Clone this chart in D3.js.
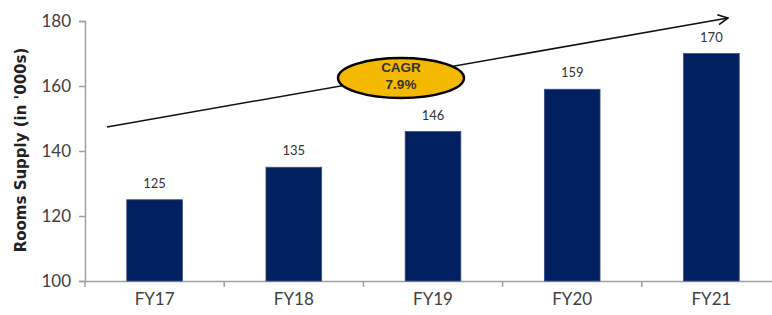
<!DOCTYPE html>
<html lang="en">
<head>
    <meta charset="UTF-8">
    <title>Rooms Supply</title>
    <script src="https://d3js.org/d3.v7.min.js"></script>
    <style>
        body { margin: 0; background: white; }
        svg { display: block; }
    </style>
</head>
<body>
    <svg id="chart" width="772" height="315"></svg>
    <script>
        // Data
        const years = ["FY17", "FY18", "FY19", "FY20", "FY21"];
        const supply = [125, 135, 146, 159, 170];
        const yTicks = [100, 120, 140, 160, 180];

        const svg = d3.select("#chart");
        const font = "Lato, 'DejaVu Sans', sans-serif";

        // Scales
        const x = d3.scaleBand()
            .domain(years)
            .range([85, 781])
            .paddingInner(0.6)
            .paddingOuter(0.3);
        const y = d3.scaleLinear()
            .domain([100, 180])
            .range([281, 21]);

        // Axis lines
        const axisColor = "#a0a0a0";
        const yAxis = svg.append("g")
            .attr("transform", "translate(85,0)")
            .call(d3.axisLeft(y).tickValues(yTicks).tickSize(6).tickPadding(8));
        yAxis.select(".domain").attr("stroke", axisColor).attr("stroke-width", 1.5);
        yAxis.selectAll("line").attr("stroke", axisColor).attr("stroke-width", 1.5);
        yAxis.selectAll("text")
            .attr("font-family", font)
            .attr("font-size", 17)
            .attr("fill", "#404040");

        const xBand = d3.scaleBand().domain(years).range([85, 781]);
        const xAxis = svg.append("g")
            .attr("transform", "translate(0,281)")
            .call(d3.axisBottom(xBand).tickSize(0).tickPadding(12));
        xAxis.select(".domain").attr("stroke", axisColor).attr("stroke-width", 1.5);
        xAxis.selectAll("text")
            .attr("font-family", font)
            .attr("font-size", 17)
            .attr("fill", "#404040");
        // tick marks at band boundaries
        svg.append("g")
            .selectAll("line")
            .data(years)
            .join("line")
            .attr("x1", d => xBand(d))
            .attr("x2", d => xBand(d))
            .attr("y1", 281)
            .attr("y2", 287)
            .attr("stroke", axisColor)
            .attr("stroke-width", 1.5);

        // Bars
        svg.append("g")
            .selectAll("rect")
            .data(years)
            .join("rect")
            .attr("x", d => x(d))
            .attr("y", (d, i) => y(supply[i]))
            .attr("width", x.bandwidth())
            .attr("height", (d, i) => y(100) - y(supply[i]))
            .attr("fill", "#002060")
            .attr("stroke", "#3a4f88")
            .attr("stroke-width", 0.8);

        // Value labels
        svg.append("g")
            .selectAll("text")
            .data(years)
            .join("text")
            .attr("x", d => x(d) + x.bandwidth() / 2)
            .attr("y", (d, i) => y(supply[i]) - 12)
            .attr("text-anchor", "middle")
            .attr("font-family", font)
            .attr("font-size", 13)
            .attr("fill", "#333")
            .text((d, i) => supply[i]);

        // Y title
        svg.append("text")
            .attr("transform", "translate(26,150) rotate(-90)")
            .attr("text-anchor", "middle")
            .attr("font-family", "'DejaVu Sans', sans-serif")
            .attr("font-weight", "bold")
            .attr("font-size", 15)
            .attr("fill", "#222")
            .text("Rooms Supply (in '000s)");

        // Trend arrow
        svg.append("defs").append("marker")
            .attr("id", "head")
            .attr("viewBox", "0 0 12 12")
            .attr("refX", 11)
            .attr("refY", 6)
            .attr("markerWidth", 12)
            .attr("markerHeight", 12)
            .attr("markerUnits", "userSpaceOnUse")
            .attr("orient", "auto")
            .append("path")
            .attr("d", "M1,1 L11,6 L1,11")
            .attr("fill", "none")
            .attr("stroke", "#111")
            .attr("stroke-width", 1.6);

        svg.append("line")
            .attr("x1", 107).attr("y1", 127)
            .attr("x2", 728).attr("y2", 18)
            .attr("stroke", "#111")
            .attr("stroke-width", 1.5)
            .attr("marker-end", "url(#head)");

        // CAGR badge
        svg.append("ellipse")
            .attr("cx", 401).attr("cy", 78)
            .attr("rx", 63).attr("ry", 20)
            .attr("fill", "#f5b800")
            .attr("stroke", "#000")
            .attr("stroke-width", 2.5);
        svg.append("text")
            .attr("x", 401).attr("y", 72)
            .attr("text-anchor", "middle")
            .attr("font-family", "'Liberation Sans', Arial, sans-serif")
            .attr("font-weight", "bold")
            .attr("font-size", 13.5)
            .attr("fill", "#333")
            .text("CAGR");
        svg.append("text")
            .attr("x", 401).attr("y", 89)
            .attr("text-anchor", "middle")
            .attr("font-family", "'Liberation Sans', Arial, sans-serif")
            .attr("font-weight", "bold")
            .attr("font-size", 13.5)
            .attr("fill", "#333")
            .text("7.9%");
    </script>
</body>
</html>
